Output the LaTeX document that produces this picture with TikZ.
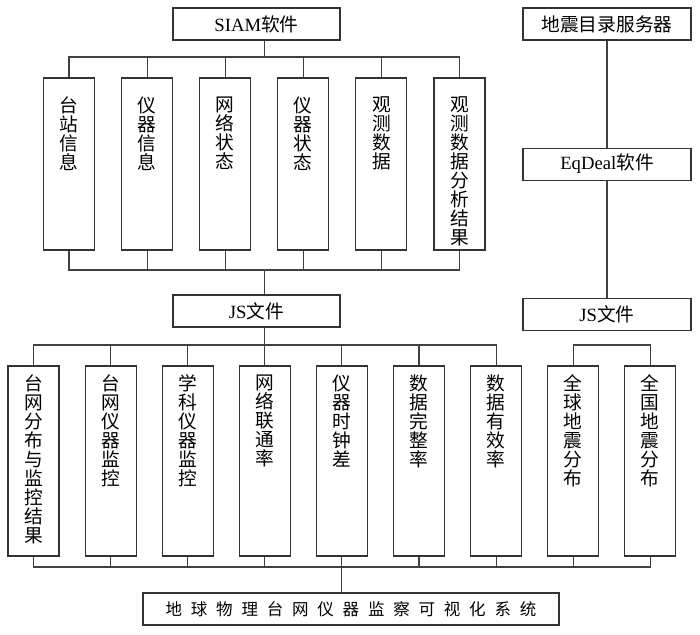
\documentclass[tikz,border=0pt]{standalone}
\usepackage{fontspec}
\setmainfont[Scale=1.1]{Liberation Serif}
\newfontfamily\cjk[Scale=1.1]{Noto Sans CJK SC}
\usetikzlibrary{positioning,calc}

\newcommand{\vlab}[2]{\parbox[c][#1][t]{1.3em}{\centering\cjk #2}}
\newcommand{\gap}{\hspace{8.8pt}}

\begin{document}
\begin{tikzpicture}[x=1pt,y=-1pt,
       box/.style={
         rectangle,
         draw=black!80,
         line width=1.1pt,
         minimum width=167pt,
         minimum height=32pt,
         inner sep=0pt,
         font=\fontsize{17pt}{19pt}\selectfont},
       cell/.style={
         rectangle,
         draw=black!80,
         line width=1.1pt,
         minimum width=51pt,
         inner sep=0pt,
         font=\fontsize{17pt}{19pt}\selectfont},
       link/.style={draw=black!75, line width=1.1pt}
      ]
      \useasboundingbox (0,0) rectangle (700,634);

      % SIAM branch
      \node[box] (siam) at (256.5,24) {SIAM{\cjk 软件}};
      \node[cell, minimum height=172pt] (t1) at (69,164) {\vlab{134pt}{台\\站\\信\\息}};
      \node[cell, minimum height=172pt, right=26pt of t1] (t2) {\vlab{134pt}{仪\\器\\信\\息}};
      \node[cell, minimum height=172pt, right=26pt of t2] (t3) {\vlab{134pt}{网\\络\\状\\态}};
      \node[cell, minimum height=172pt, right=26pt of t3] (t4) {\vlab{134pt}{仪\\器\\状\\态}};
      \node[cell, minimum height=172pt, right=26pt of t4] (t5) {\vlab{134pt}{观\\测\\数\\据}};
      \node[cell, minimum height=172pt, right=26pt of t5] (t6) {\vlab{134pt}{观\\测\\数\\据\\分\\析\\结\\果}};
      \node[box] (jsl) at (256.5,311) {JS{\cjk 文件}};

      % EqDeal branch
      \node[box, minimum width=168pt] (server) at (607,24) {\cjk 地震目录服务器};
      \node[box, minimum width=168pt, below=107pt of server] (eqdeal) {EqDeal{\cjk 软件}};
      \node[box, minimum width=168pt, below=117pt of eqdeal] (jsr) {JS{\cjk 文件}};

      % display modules
      \node[cell, minimum height=190pt] (b1) at (33.5,461) {\vlab{172pt}{台\\网\\分\\布\\与\\监\\控\\结\\果}};
      \node[cell, minimum height=190pt, right=25pt of b1] (b2) {\vlab{172pt}{台\\网\\仪\\器\\监\\控}};
      \node[cell, minimum height=190pt, right=25pt of b2] (b3) {\vlab{172pt}{学\\科\\仪\\器\\监\\控}};
      \node[cell, minimum height=190pt, right=25pt of b3] (b4) {\vlab{172pt}{网\\络\\联\\通\\率}};
      \node[cell, minimum height=190pt, right=25pt of b4] (b5) {\vlab{172pt}{仪\\器\\时\\钟\\差}};
      \node[cell, minimum height=190pt, right=25pt of b5] (b6) {\vlab{172pt}{数\\据\\完\\整\\率}};
      \node[cell, minimum height=190pt, right=25pt of b6] (b7) {\vlab{172pt}{数\\据\\有\\效\\率}};
      \node[cell, minimum height=190pt, right=25pt of b7] (b8) {\vlab{172pt}{全\\球\\地\\震\\分\\布}};
      \node[cell, minimum height=190pt, right=25pt of b8] (b9) {\vlab{172pt}{全\\国\\地\\震\\分\\布}};

      \node[box, minimum width=416pt, font=\fontsize{15pt}{17pt}\selectfont] (sys) at (351,609)
        {\cjk 地\gap 球\gap 物\gap 理\gap 台\gap 网\gap 仪\gap 器\gap 监\gap 察\gap 可\gap 视\gap 化\gap 系\gap 统};

      % buses
      \coordinate (tmid) at ($(t1.north)!.5!(t6.north)$);
      \coordinate (tbus) at (0,57);
      \coordinate (bbus) at (0,270);
      \coordinate (lbus) at (0,345);
      \coordinate (sbus) at (0,567);

      \foreach \i in {1,...,6}
        \draw[link] (siam.south -| tmid) -- (tmid |- tbus) -| (t\i.north);
      \foreach \i in {1,...,6}
        \draw[link] (jsl.north -| tmid) -- (tmid |- bbus) -| (t\i.south);
      \foreach \i in {1,...,7}
        \draw[link] (jsl.south -| b4.north) -- (b4.north |- lbus) -| (b\i.north);
      \draw[link] (b8.north) -- (b8.north |- lbus) -| (b9.north);
      \foreach \i in {1,...,9}
        \draw[link] (sys.north -| b5.south) -- (b5.south |- sbus) -| (b\i.south);

      \draw[link] (server) -- (eqdeal);
      \draw[link] (eqdeal) -- (jsr);

\end{tikzpicture}
\end{document}
